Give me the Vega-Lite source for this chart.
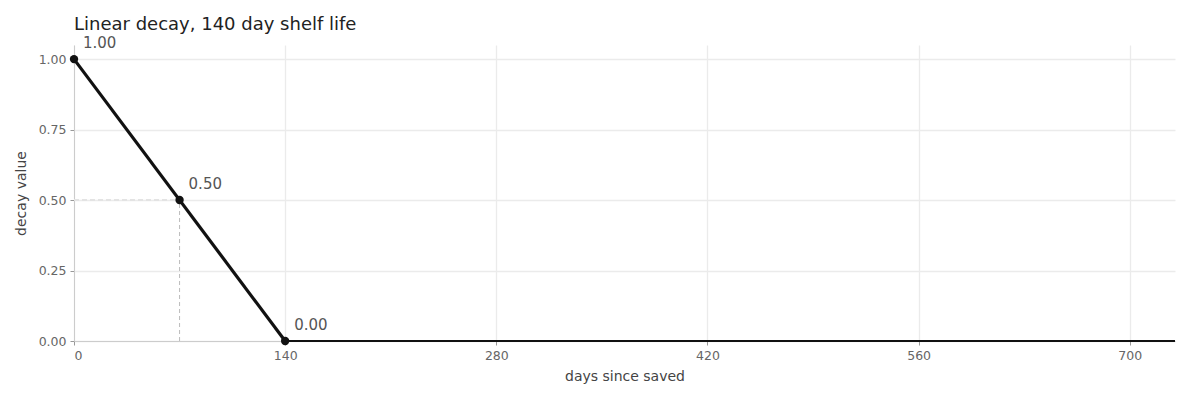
{
  "$schema": "https://vega.github.io/schema/vega-lite/v6.json",
  "width": 1190,
  "height": 400,
  "autosize": {"type": "fit", "contains": "padding"},
  "padding": {"left": 14, "right": 10, "top": 21, "bottom": 16},
  "title": {"text": "Linear decay, 140 day shelf life", "anchor": "start", "frame": "group", "fontSize": 18, "fontWeight": "normal", "color": "#222", "font": "DejaVu Sans", "offset": 2},
  "datasets": {
    "decay": [
      {"days": 0, "value": 1.0},
      {"days": 140, "value": 0.0}
    ],
    "flat": [
      {"days": 140, "value": 0.0},
      {"days": 730, "value": 0.0}
    ],
    "marks": [
      {"days": 0, "value": 1.0, "label": "1.00"},
      {"days": 70, "value": 0.5, "label": "0.50"},
      {"days": 140, "value": 0.0, "label": "0.00"}
    ],
    "half": [
      {"days": 70, "value": 0.5}
    ]
  },
  "encoding": {
    "x": {"field": "days", "type": "quantitative", "title": "days since saved",
      "scale": {"domain": [0, 730], "nice": false, "zero": false},
      "axis": {"values": [0, 140, 280, 420, 560, 700]}},
    "y": {"field": "value", "type": "quantitative", "title": "decay value",
      "scale": {"domain": [0, 1.05], "nice": false},
      "axis": {"values": [0, 0.25, 0.5, 0.75, 1.0], "format": ".2f"}}
  },
  "layer": [
    {
      "data": {"name": "half"},
      "mark": {"type": "rule", "color": "#e3e3e3", "strokeDash": [5, 3], "strokeWidth": 2},
      "encoding": {"x": {"datum": 0}, "x2": {"field": "days"}}
    },
    {
      "data": {"name": "half"},
      "mark": {"type": "rule", "color": "#bbbbbb", "strokeDash": [4, 3], "strokeWidth": 1},
      "encoding": {"y": {"datum": 0}, "y2": {"field": "value"}}
    },
    {
      "data": {"name": "flat"},
      "mark": {"type": "line", "color": "#111", "strokeWidth": 2.2}
    },
    {
      "data": {"name": "decay"},
      "mark": {"type": "line", "color": "#111", "strokeWidth": 3.2}
    },
    {
      "data": {"name": "marks"},
      "mark": {"type": "point", "filled": true, "color": "#111", "size": 70, "opacity": 1}
    },
    {
      "data": {"name": "marks"},
      "mark": {"type": "text", "align": "left", "baseline": "middle", "dx": 9, "dy": -16, "fontSize": 15, "color": "#555", "font": "DejaVu Sans"},
      "encoding": {"text": {"field": "label"}}
    }
  ],
  "config": {
    "view": {"stroke": null},
    "font": "DejaVu Sans",
    "axis": {
      "gridColor": "#ebebeb",
      "gridWidth": 1.3,
      "domainColor": "#cccccc",
      "tickColor": "#999",
      "tickSize": 4,
      "labelColor": "#666",
      "labelFontSize": 12.5,
      "titleColor": "#444",
      "titleFontSize": 14,
      "titleFontWeight": "normal",
      "labelFont": "DejaVu Sans",
      "titleFont": "DejaVu Sans"
    },
    "axisX": {"titlePadding": 8, "labelPadding": 4},
    "axisY": {"titlePadding": 10, "labelPadding": 4}
  }
}
